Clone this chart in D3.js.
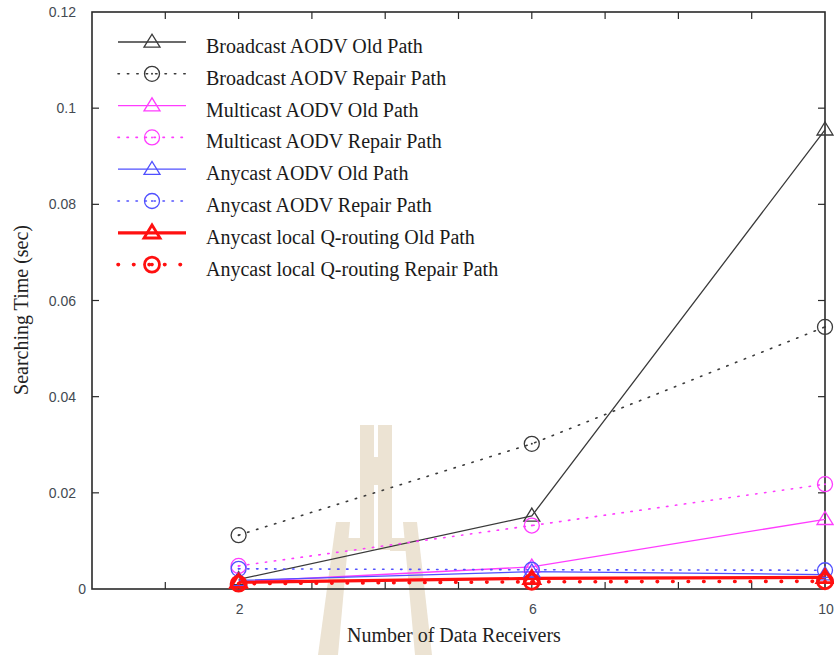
<!DOCTYPE html>
<html>
<head>
<meta charset="utf-8">
<script src="https://cdn.jsdelivr.net/npm/d3@7"></script>
<style>
  html, body { margin: 0; padding: 0; background: #fff; }
  svg { display: block; }
</style>
</head>
<body>
<svg id="chart" width="834" height="655"></svg>
<script>
// Searching time vs. number of data receivers
const receivers = [2, 6, 10];
const bcastOld     = [0.0020, 0.0152, 0.0955];
const bcastRepair  = [0.0112, 0.0302, 0.0545];
const mcastOld     = [0.0015, 0.0046, 0.0145];
const mcastRepair  = [0.0048, 0.0132, 0.0218];
const acastOld     = [0.0018, 0.0036, 0.0030];
const acastRepair  = [0.0042, 0.0040, 0.0039];
const qOld         = [0.0014, 0.0022, 0.0024];
const qRepair      = [0.0011, 0.0015, 0.0016];

const seriesNames = [
  "Broadcast AODV Old Path",
  "Broadcast AODV Repair Path",
  "Multicast AODV Old Path",
  "Multicast AODV Repair Path",
  "Anycast AODV Old Path",
  "Anycast AODV Repair Path",
  "Anycast local Q-routing Old Path",
  "Anycast local Q-routing Repair Path"
];
const xTickLabels = [2, 6, 10];
const yTicks = [0, 0.02, 0.04, 0.06, 0.08, 0.1, 0.12];

const styles = [
  {color: "#3a3a3a", dash: null,      width: 1.3, marker: "tri", mw: 1.3},
  {color: "#3a3a3a", dash: "1.4,8",   width: 1.6, marker: "cir", mw: 1.3},
  {color: "#ff3cff", dash: null,      width: 1.3, marker: "tri", mw: 1.3},
  {color: "#ff3cff", dash: "1.4,7.6", width: 1.6, marker: "cir", mw: 1.3},
  {color: "#5050ff", dash: null,      width: 1.3, marker: "tri", mw: 1.3},
  {color: "#5050ff", dash: "1.4,7.6", width: 1.6, marker: "cir", mw: 1.3},
  {color: "#ff1010", dash: null,      width: 3.2, marker: "tri", mw: 2.8},
  {color: "#ff1010", dash: "0.5,15",  width: 3.6, marker: "cir", mw: 2.8}
];
const allValues = [bcastOld, bcastRepair, mcastOld, mcastRepair, acastOld, acastRepair, qOld, qRepair];

const svg = d3.select("#chart");
const L = 92, R = 825, T = 12, B = 589;

const x = d3.scaleLinear().domain([0, 10]).range([L, R]);
const y = d3.scaleLinear().domain([0, 0.12]).range([B, T]);

// faint tan watermark emblem behind the plot
const wm = svg.append("g").attr("fill", "#ece3d3");
wm.append("rect").attr("x", 360).attr("y", 425).attr("width", 14).attr("height", 125);
wm.append("rect").attr("x", 378).attr("y", 425).attr("width", 14).attr("height", 125);
wm.append("rect").attr("x", 360).attr("y", 457).attr("width", 32).attr("height", 28);
wm.append("rect").attr("x", 345).attr("y", 538).attr("width", 17).attr("height", 13);
wm.append("rect").attr("x", 390).attr("y", 538).attr("width", 17).attr("height", 13);
wm.append("polygon").attr("points", "336,522 350,522 338,655 318,655");
wm.append("polygon").attr("points", "403,522 417,522 432,655 415,655");

// frame
svg.append("rect").attr("x", L).attr("y", T).attr("width", R - L).attr("height", B - T)
  .attr("fill", "none").attr("stroke", "#2a2a2a").attr("stroke-width", 1.6);

// inward ticks on all four sides
const xTickVals = d3.range(1, 10);
const tk = svg.append("g").attr("stroke", "#2a2a2a").attr("stroke-width", 1.2);
xTickVals.forEach(v => {
  tk.append("line").attr("x1", x(v)).attr("x2", x(v)).attr("y1", B).attr("y2", B - 7);
  tk.append("line").attr("x1", x(v)).attr("x2", x(v)).attr("y1", T).attr("y2", T + 7);
});
yTicks.slice(1, -1).forEach(v => {
  tk.append("line").attr("x1", L).attr("x2", L + 7).attr("y1", y(v)).attr("y2", y(v));
  tk.append("line").attr("x1", R).attr("x2", R - 7).attr("y1", y(v)).attr("y2", y(v));
});

// tick labels
const tickFont = "'Liberation Sans', Arial, sans-serif";
svg.append("g").selectAll("text").data(yTicks).join("text")
  .attr("x", d => d === 0 ? 86 : 76)
  .attr("y", d => y(d) + 5)
  .attr("text-anchor", "end")
  .attr("font-family", tickFont).attr("font-size", 14).attr("fill", "#444a52")
  .text(d => d3.format("~g")(d));
svg.append("g").selectAll("text").data(xTickLabels).join("text")
  .attr("x", d => x(d) + 1)
  .attr("y", 614)
  .attr("text-anchor", "middle")
  .attr("font-family", tickFont).attr("font-size", 14).attr("fill", "#444a52")
  .text(d => d);

// axis titles
const serif = "'Liberation Serif', 'Times New Roman', serif";
svg.append("text").attr("x", 454).attr("y", 642).attr("text-anchor", "middle")
  .attr("font-family", serif).attr("font-size", 20).attr("fill", "#222")
  .text("Number of Data Receivers");
svg.append("text").attr("transform", "translate(28,310) rotate(-90)").attr("text-anchor", "middle")
  .attr("font-family", serif).attr("font-size", 20).attr("fill", "#222")
  .text("Searching Time (sec)");

function drawMarker(g, type, cx, cy, st) {
  if (type === "tri") {
    const w = 16, h = 13;
    g.append("path")
      .attr("d", `M${cx - w / 2},${cy + h * 0.4} L${cx + w / 2},${cy + h * 0.4} L${cx},${cy - h * 0.6} Z`)
      .attr("fill", "none").attr("stroke", st.color).attr("stroke-width", st.mw)
      .attr("stroke-linejoin", "miter");
  } else {
    g.append("circle").attr("cx", cx).attr("cy", cy).attr("r", 7.5)
      .attr("fill", "none").attr("stroke", st.color).attr("stroke-width", st.mw);
    g.append("circle").attr("cx", cx).attr("cy", cy).attr("r", st.mw > 2 ? 1.8 : 1)
      .attr("fill", st.color);
  }
}

// series lines and markers
const line = d3.line().x((d, i) => x(receivers[i])).y(d => y(d));
const plot = svg.append("g");
allValues.forEach((vals, s) => {
  const st = styles[s];
  plot.append("path").datum(vals).attr("d", line)
    .attr("fill", "none").attr("stroke", st.color).attr("stroke-width", st.width)
    .attr("stroke-dasharray", st.dash).attr("stroke-linecap", st.dash ? "round" : "butt");
});
allValues.forEach((vals, s) => {
  const st = styles[s];
  const g = plot.append("g");
  vals.forEach((v, i) => drawMarker(g, st.marker, x(receivers[i]), y(v), st));
});

// legend
const leg = svg.append("g");
seriesNames.forEach((name, i) => {
  const ly = 42 + i * 31.8;
  const st = styles[i];
  const g = leg.append("g");
  g.append("line").attr("x1", 118).attr("x2", 186).attr("y1", ly).attr("y2", ly)
    .attr("stroke", st.color).attr("stroke-width", st.width)
    .attr("stroke-dasharray", st.dash).attr("stroke-linecap", st.dash ? "round" : "butt");
  drawMarker(g, st.marker, 152, ly, st);
  g.append("text").attr("x", 206).attr("y", ly + 11)
    .attr("font-family", serif).attr("font-size", 20).attr("fill", "#1a1a1a")
    .text(name);
});
</script>
</body>
</html>
